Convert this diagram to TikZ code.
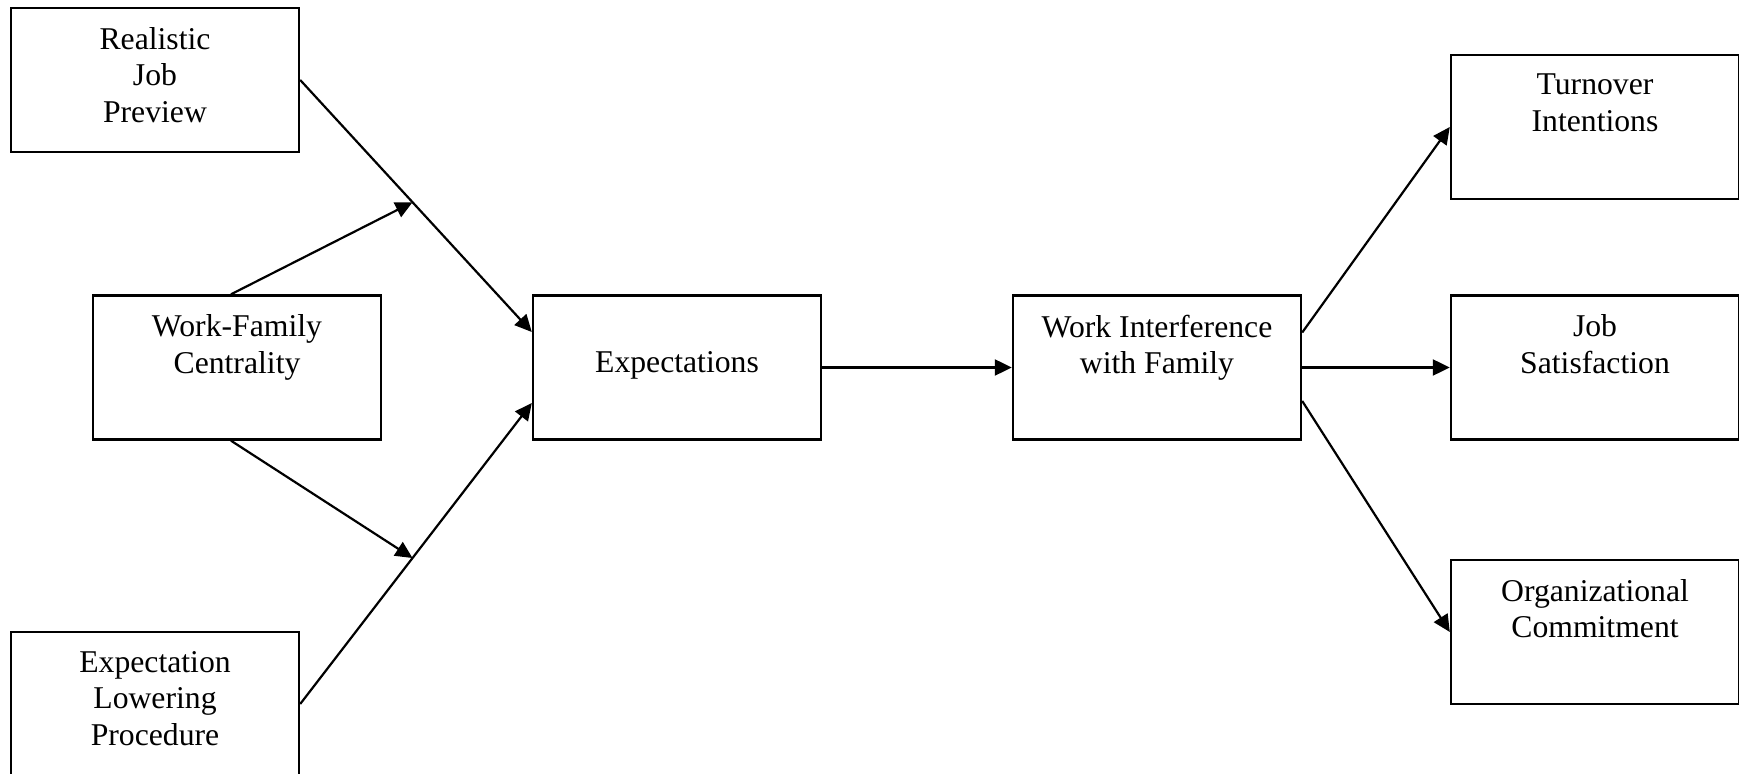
\documentclass[tikz,border=0pt]{standalone}
\usepackage{fontspec}
\setmainfont{Liberation Serif}
\usetikzlibrary{positioning,calc,arrows.meta}

\tikzset{
  modelbox/.style={draw, line width=1.2pt, minimum width=144pt, minimum height=72pt, inner sep=0pt},
  boxtext/.style={align=center, inner sep=0pt, font=\fontsize{15.85pt}{18.3pt}\selectfont},
  arr/.style={line width=1.1pt, -{Triangle[length=8.5pt,width=8pt]}}
}

\begin{document}
\begin{tikzpicture}[x=0.5pt,y=-0.5pt]
    \useasboundingbox (0,0) rectangle (1739,774);
    \clip (0,0) rectangle (1739,774);

    % boxes
    \node[modelbox] (rjp) at (155,80) {};
    \node[modelbox] (wfc) at (237,367.5) {};
    \node[modelbox] (elp) at (155,704) {};
    \node[modelbox] (exp) at (677,367.5) {};
    \node[modelbox] (wif) at (1157,367.5) {};
    \node[modelbox] (toi) at (1595,127) {};
    \node[modelbox] (jsf) at (1595,367.5) {};
    \node[modelbox] (ocm) at (1595,632) {};

    % texts
    \node[boxtext, below=10pt of rjp.north] (rjptext) {Realistic\\Job\\Preview};
    \node[boxtext, below=10pt of wfc.north] (wfctext) {Work-Family\\Centrality};
    \node[boxtext, below=10pt of elp.north] (elptext) {Expectation\\Lowering\\Procedure};
    \node[boxtext, below=28.5pt of exp.north] (exptext) {Expectations};
    \node[boxtext, below=10pt of wif.north] (wiftext) {Work Interference\\with Family};
    \node[boxtext, below=10pt of toi.north] (toitext) {Turnover\\Intentions};
    \node[boxtext, below=10pt of jsf.north] (jsftext) {Job\\Satisfaction};
    \node[boxtext, below=10pt of ocm.north] (ocmtext) {Organizational\\Commitment};

    % paths
    \coordinate (expin1) at ([yshift=17.75pt]exp.west);
    \coordinate (expin2) at ([yshift=-17.75pt]exp.west);
    \coordinate (m1) at ($(rjp.east)!0.485!(expin1)$);
    \coordinate (m2) at ($(elp.east)!0.485!(expin2)$);

    \draw[arr] (rjp.east) -- (expin1);
    \draw[arr] (elp.east) -- (expin2);
    \draw[arr] ([xshift=-3pt]wfc.north) -- (m1);
    \draw[arr] ([xshift=-3pt]wfc.south) -- (m2);
    \draw[arr] (exp.east) -- (wif.west);
    \draw[arr] ([yshift=17.5pt]wif.east) -- (toi.west);
    \draw[arr] (wif.east) -- (jsf.west);
    \draw[arr] ([yshift=-16.75pt]wif.east) -- (ocm.west);
\end{tikzpicture}
\end{document}
